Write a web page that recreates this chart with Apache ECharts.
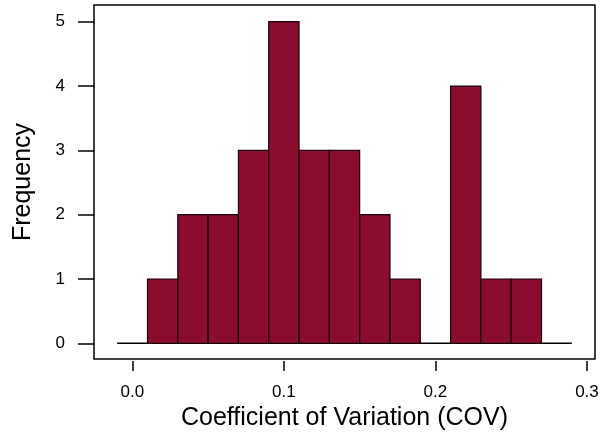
<!DOCTYPE html>
<html>
<head>
<meta charset="utf-8">
<script src="https://cdn.jsdelivr.net/npm/echarts@6/dist/echarts.min.js"></script>
<style>
html,body{margin:0;padding:0;background:#fff;}
#chart{width:605px;height:433px;}
</style>
</head>
<body>
<div id="chart"></div>
<script>
// Histogram bins (COV) and frequencies
const binStarts = [0.01,0.03,0.05,0.07,0.09,0.11,0.13,0.15,0.17,0.19,0.21,0.23,0.25];
const binEnds   = [0.03,0.05,0.07,0.09,0.11,0.13,0.15,0.17,0.19,0.21,0.23,0.25,0.27];
const counts    = [1,2,2,3,5,3,3,2,1,0,4,1,1];
const baselineX = [-0.01, 0.29];
const xTicks = [0, 0.1, 0.2, 0.3];
const yTicks = [0, 1, 2, 3, 4, 5];
const xTitle = 'Coefficient of Variation (COV)';
const yTitle = 'Frequency';

const barData = binStarts.map((s, i) => [s, binEnds[i], counts[i]]);
const baseData = baselineX.map(x => [x, 0]);

const FONT = '"Liberation Sans", Arial, Helvetica, sans-serif';
const chart = echarts.init(document.getElementById('chart'), null, {renderer: 'canvas'});
chart.setOption({
  animation: false,
  backgroundColor: '#fff',
  grid: {
    left: 94, top: 5, width: 501, height: 354,
    containLabel: false, outerBoundsMode: 'none',
    show: true, borderColor: '#000', borderWidth: 1.5, backgroundColor: 'transparent'
  },
  xAxis: {
    type: 'value', min: -0.0253, max: 0.3053, offset: 2,
    axisLine: {show: false, onZero: false},
    splitLine: {show: false},
    axisTick: {show: true, length: 10, customValues: xTicks, lineStyle: {color: '#000', width: 1.5}},
    axisLabel: {customValues: xTicks, margin: 23, color: '#000', fontFamily: FONT, fontSize: 17,
      formatter: v => v.toFixed(1)},
    name: xTitle, nameLocation: 'middle', nameGap: 38,
    nameTextStyle: {color: '#000', fontFamily: FONT, fontSize: 25}
  },
  yAxis: {
    type: 'value', min: -0.244, max: 5.26,
    axisLine: {show: false, onZero: false},
    splitLine: {show: false},
    axisTick: {show: true, length: 16, customValues: yTicks, lineStyle: {color: '#000', width: 1.5}},
    axisLabel: {customValues: yTicks, margin: 29, color: '#000', fontFamily: FONT, fontSize: 17,
      formatter: v => String(Math.round(v))},
    name: yTitle, nameLocation: 'middle', nameGap: 58, nameRotate: 90,
    nameTextStyle: {color: '#000', fontFamily: FONT, fontSize: 25}
  },
  series: [
    {
      type: 'line', data: baseData, symbol: 'none', z: 1,
      lineStyle: {color: '#000', width: 1.5}
    },
    {
      type: 'custom', data: barData, z: 2,
      renderItem: function (params, api) {
        const x0 = api.value(0), x1 = api.value(1), c = api.value(2);
        if (!c) return null;
        const p0 = api.coord([x0, c]);
        const p1 = api.coord([x1, 0]);
        return {
          type: 'rect',
          shape: {x: p0[0], y: p0[1], width: p1[0] - p0[0], height: p1[1] - p0[1]},
          style: {fill: '#8a0c2f', stroke: '#1a0008', lineWidth: 1.2}
        };
      }
    }
  ]
});
</script>
</body>
</html>
